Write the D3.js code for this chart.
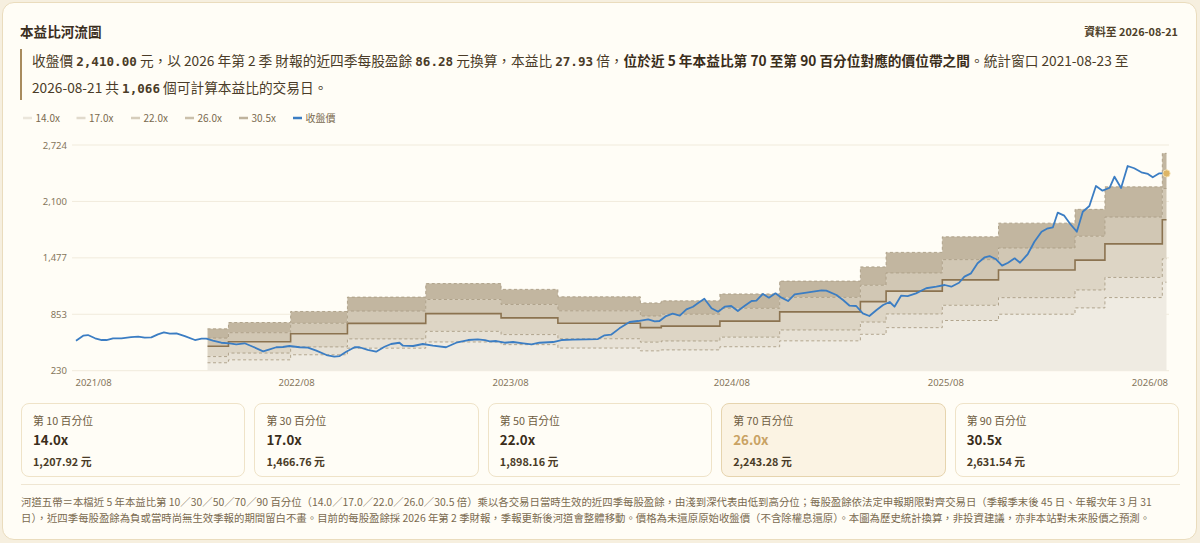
<!DOCTYPE html>
<html><head><meta charset="utf-8">
<script src="https://cdn.jsdelivr.net/npm/d3@7/dist/d3.min.js"></script>
<style>
html,body{margin:0;padding:0;width:1200px;height:543px;overflow:hidden;background:#f6efdf;font-family:"Noto Sans CJK TC","Noto Sans",sans-serif;}
#card{position:absolute;left:2px;top:2px;width:1195px;height:538px;box-sizing:border-box;background:#fffdf6;border:1px solid #eadcbd;border-radius:12px;}
.abs{position:absolute;white-space:nowrap;}
#title{left:20px;top:22px;font-size:13.6px;line-height:18px;font-weight:700;color:#3b2f1f;}
#asof{right:22px;top:24px;font-size:10.8px;line-height:14px;font-weight:700;color:#4e3f29;}
#bar{left:20px;top:49px;width:2px;height:51px;background:#a88b5e;}
#summary{left:32px;top:48px;font-size:13.7px;line-height:25.6px;color:#4a3b27;}
#summary .m{font-family:"DejaVu Sans Mono",monospace;font-weight:700;font-size:12.6px;}
#summary b{font-weight:700;color:#3a2d1a;}
#cards{position:absolute;left:21px;top:403px;width:1158px;height:74px;display:flex;gap:9px;}
.pc{flex:1;box-sizing:border-box;border:1px solid #efe3c8;border-radius:8px;background:#fffdf6;position:relative;}
.pc.hi{background:#fbf3e3;border-color:#e6d4ae;}
.pc .l{position:absolute;left:11px;top:8px;font-size:10.8px;line-height:16px;color:#6e5c41;}
.pc .v{position:absolute;left:11px;top:27px;font-size:13.3px;line-height:18px;font-weight:700;color:#3a2d1a;}
.pc.hi .v{color:#c9a263;}
.pc .p{position:absolute;left:11px;top:49px;font-size:10.8px;line-height:16px;font-weight:700;color:#4a3b27;}
#sep{left:21px;top:484px;width:1159px;height:1px;background:#efe6d2;}
#foot{left:21px;top:494px;font-size:10.4px;line-height:15.5px;color:#7a6a4f;}
svg{position:absolute;left:0;top:0;}
</style></head>
<body>
<div id="card"></div>
<div id="title" class="abs">本益比河流圖</div>
<div id="asof" class="abs">資料至 2026-08-21</div>
<div id="bar" class="abs"></div>
<div id="summary" class="abs">收盤價 <span class="m">2,410.00</span> 元，以 2026 年第 2 季 財報的近四季每股盈餘 <span class="m">86.28</span> 元換算，本益比 <span class="m">27.93</span> 倍，<b>位於近 5 年本益比第 70 至第 90 百分位對應的價位帶之間</b>。統計窗口 2021-08-23 至<br>2026-08-21 共 <span class="m">1,066</span> 個可計算本益比的交易日。</div>
<div id="cards"></div>
<div id="sep" class="abs"></div>
<div id="foot" class="abs">河道五帶＝本檔近 5 年本益比第 10／30／50／70／90 百分位（14.0／17.0／22.0／26.0／30.5 倍）乘以各交易日當時生效的近四季每股盈餘，由淺到深代表由低到高分位；每股盈餘依法定申報期限對齊交易日（季報季末後 45 日、年報次年 3 月 31<br>日），近四季每股盈餘為負或當時尚無生效季報的期間留白不畫。目前的每股盈餘採 2026 年第 2 季財報，季報更新後河道會整體移動。價格為未還原原始收盤價（不含除權息還原）。本圖為歷史統計換算，非投資建議，亦非本站對未來股價之預測。</div>
<svg id="chart" width="1200" height="543"></svg>
<script>
// ---------------- DATA ----------------
const priceDates = ["2021-08-23","2021-09-04","2021-09-12","2021-09-24","2021-10-05","2021-10-13","2021-10-24","2021-11-07","2021-11-23","2021-12-05","2021-12-16","2021-12-27",
"2022-01-07","2022-01-17","2022-01-27","2022-02-07","2022-02-21","2022-03-10","2022-03-21","2022-03-29","2022-04-09","2022-04-23","2022-05-07","2022-05-18","2022-06-01","2022-06-15","2022-07-02","2022-07-13","2022-07-24","2022-08-04","2022-08-15","2022-09-01","2022-09-15","2022-09-29","2022-10-16","2022-10-29","2022-11-07","2022-11-18","2022-12-02","2022-12-10","2022-12-24",
"2023-01-07","2023-01-21","2023-02-01","2023-02-15","2023-02-21","2023-03-10","2023-03-26","2023-04-12","2023-05-04","2023-05-21","2023-06-10","2023-06-26","2023-07-08","2023-07-16","2023-07-27","2023-08-10","2023-08-24","2023-09-10","2023-09-24","2023-10-07","2023-10-30","2023-11-13","2023-12-02","2023-12-25",
"2024-01-13","2024-01-24","2024-02-04","2024-02-18","2024-03-06","2024-03-20","2024-04-06","2024-04-17","2024-04-25","2024-05-06","2024-05-17","2024-05-29","2024-06-09","2024-06-20","2024-06-28","2024-07-09","2024-07-21","2024-08-01","2024-08-12","2024-08-23","2024-09-03","2024-09-14","2024-09-26","2024-10-04","2024-10-15","2024-10-25","2024-11-05","2024-11-15","2024-11-26","2024-12-07","2024-12-27",
"2025-01-07","2025-01-21","2025-01-29","2025-02-15","2025-02-26","2025-03-09","2025-03-20","2025-03-31","2025-04-11","2025-04-23","2025-05-04","2025-05-15","2025-05-23","2025-06-03","2025-06-14","2025-06-28","2025-07-15","2025-08-01","2025-08-15","2025-08-26","2025-09-08","2025-09-17","2025-09-28","2025-10-09","2025-10-21","2025-10-29","2025-11-09","2025-11-19","2025-11-29","2025-12-10","2025-12-19",
"2026-01-01","2026-01-12","2026-01-24","2026-02-02","2026-02-12","2026-02-20","2026-03-03","2026-03-13","2026-03-24","2026-04-03","2026-04-14","2026-04-25","2026-05-06","2026-05-18","2026-05-26","2026-06-06","2026-06-17","2026-06-28","2026-07-10","2026-07-21","2026-07-29","2026-08-09","2026-08-21"];
const priceValues = [562,617,624,588,569,569,588,588,602,606,595,599,
632,654,639,643,613,569,584,584,562,539,533,522,533,495,444,466,489,492,503,489,484,451,403,385,392,440,489,489,459,
440,495,525,539,506,503,525,506,489,539,569,577,569,555,558,539,547,533,522,539,547,569,573,577,
580,621,628,698,768,779,798,776,779,834,860,838,908,937,975,1026,920,882,937,945,890,945,1000,1004,1078,1037,1085,1037,1000,1074,1092,
1103,1118,1114,1066,1011,948,945,864,834,901,956,989,937,1059,1055,1085,1141,1158,1177,1158,1202,1269,1306,1417,1483,1497,1461,1391,1423,1472,1423,
1519,1655,1766,1799,1815,1976,1943,1851,1766,1987,2050,2271,2219,2252,2374,2249,2492,2467,2422,2404,2367,2411,2410];

const epsDates = ["2022-03-31","2022-05-05","2022-08-17","2022-11-20","2023-03-31","2023-08-04","2023-11-07","2024-03-24","2024-04-28","2024-08-04","2024-11-12","2025-03-27","2025-05-09","2025-08-11","2025-11-13","2026-03-21","2026-05-10","2026-08-14"];
const epsValues = [22.7,25.0,29.0,34.2,39.1,37.0,34.3,32.1,32.85,35.35,40.0,45.15,50.4,56.05,61.0,66.0,74.15,86.28];

const multiples = [14.0,17.0,22.0,26.0,30.5];
const bandLabels = ["14.0x","17.0x","22.0x","26.0x","30.5x"];
const priceLabel = "收盤價";

const yTickValues = [230,853.5,1477,2100.5,2724];
const yTickLabels = ["230","853","1,477","2,100","2,724"];
const xTickDates = ["2021-08-23","2022-08-26","2023-08-19","2024-08-23","2025-08-16","2026-08-21"];
const xTickLabels = ["2021/08","2022/08","2023/08","2024/08","2025/08","2026/08"];

const cardTitles = ["第 10 百分位","第 30 百分位","第 50 百分位","第 70 百分位","第 90 百分位"];
const cardPrices = ["1,207.92 元","1,466.76 元","1,898.16 元","2,243.28 元","2,631.54 元"];
const highlightIndex = 3;

// ---------------- STYLE ----------------
const bandFills = ["#efebe2","#e7e1d5","#ddd5c5","#d1c7b4","#c2b6a0"];
const legendColors = ["#ebe6db","#e1dacc","#d6cdbb","#cbc0ab","#bfb39d"];
const priceColor = "#3b7dc3";

// ---------------- CHART ----------------
const parse = d3.timeParse("%Y-%m-%d");
const price = priceDates.map((d,i)=>({date:parse(d), v:priceValues[i]}));
const endDate = parse(priceDates[priceDates.length-1]);
const eps = epsDates.map((d,i)=>({date:parse(d), e:epsValues[i]}));
eps.push({date:endDate, e:epsValues[epsValues.length-1]});

const svg = d3.select("#chart");
const x = d3.scaleTime().domain([parse(priceDates[0]), endDate]).range([76,1166.5]);
const y = d3.scaleLinear().domain([230,2724]).range([370.7,145]);

// grid
svg.append("g").selectAll("line").data(yTickValues).join("line")
  .attr("x1",72).attr("x2",1169).attr("y1",d=>y(d)).attr("y2",d=>y(d))
  .attr("stroke","#f1ebdc").attr("stroke-width",1);

// y axis labels
const yAxis = d3.axisLeft(y).tickValues(yTickValues).tickSize(0).tickPadding(0)
  .tickFormat((d,i)=>yTickLabels[i]);
const ya = svg.append("g").attr("transform","translate(67,0)").call(yAxis);
ya.select(".domain").remove();
ya.selectAll("text").attr("fill","#85755b").attr("font-size","9.5px").attr("font-family","'Noto Sans','Noto Sans CJK TC',sans-serif");

// x axis labels
const xAxis = d3.axisBottom(x).tickValues(xTickDates.map(parse)).tickSize(0).tickPadding(0)
  .tickFormat((d,i)=>xTickLabels[i]);
const xa = svg.append("g").attr("transform","translate(0,379)").call(xAxis);
xa.select(".domain").remove();
xa.selectAll("text").attr("fill","#85755b").attr("font-size","9.5px").attr("dy","0.71em")
  .attr("font-family","'Noto Sans','Noto Sans CJK TC',sans-serif")
  .attr("text-anchor",(d,i)=> i===0 ? "start" : (i===xTickDates.length-1 ? "end" : "middle"))
  .attr("dx",(d,i)=> i===0 ? "-1" : (i===xTickDates.length-1 ? "1" : "0"));

// bands
const bandG = svg.append("g");
const levels = [null].concat(multiples);
for (let i=0;i<multiples.length;i++){
  const lo = levels[i], hi = levels[i+1];
  const area = d3.area().curve(d3.curveStepAfter)
    .x(d=>x(d.date))
    .y0(d=> lo===null ? y(230) : y(d.e*lo))
    .y1(d=> y(d.e*hi));
  bandG.append("path").datum(eps).attr("d",area).attr("fill",bandFills[i]);
}
multiples.forEach((m,i)=>{
  const line = d3.line().curve(d3.curveStepAfter).x(d=>x(d.date)).y(d=>y(d.e*m));
  const solid = (m===22.0);
  bandG.append("path").datum(eps).attr("d",line).attr("fill","none")
    .attr("stroke", solid ? "#8b7350" : "#ab9d85")
    .attr("stroke-width", solid ? 1.6 : 1)
    .attr("stroke-dasharray", solid ? null : "3,2.5")
    .attr("opacity", solid ? 1 : 0.9);
});

// price line
svg.append("path").datum(price)
  .attr("d", d3.line().x(d=>x(d.date)).y(d=>y(d.v)))
  .attr("fill","none").attr("stroke",priceColor).attr("stroke-width",1.8)
  .attr("stroke-linejoin","round");
const last = price[price.length-1];
svg.append("circle").attr("cx",x(last.date)).attr("cy",y(last.v)).attr("r",3.6)
  .attr("fill","#ddb565").attr("stroke","#f3dfae").attr("stroke-width",1);

// legend
const legendItems = bandLabels.map((l,i)=>({label:l,color:legendColors[i]})).concat([{label:priceLabel,color:priceColor}]);
const legendX = [23,76.5,131,185,239,293];
const lg = svg.append("g").selectAll("g").data(legendItems).join("g")
  .attr("transform",(d,i)=>`translate(${legendX[i]},118)`);
lg.append("line").attr("x1",0).attr("x2",9).attr("y1",0).attr("y2",0)
  .attr("stroke",d=>d.color).attr("stroke-width",2.5);
lg.append("text").attr("x",12.5).attr("y",0).attr("dy","0.35em")
  .attr("font-size","10px").attr("fill","#7a6a4f")
  .attr("font-family","'Noto Sans CJK TC','Noto Sans',sans-serif")
  .text(d=>d.label);

// cards
const cards = d3.select("#cards").selectAll("div.pc").data(cardTitles).join("div")
  .attr("class",(d,i)=> i===highlightIndex ? "pc hi" : "pc");
cards.append("div").attr("class","l").text(d=>d);
cards.append("div").attr("class","v").text((d,i)=>bandLabels[i]);
cards.append("div").attr("class","p").text((d,i)=>cardPrices[i]);
</script>
</body></html>
